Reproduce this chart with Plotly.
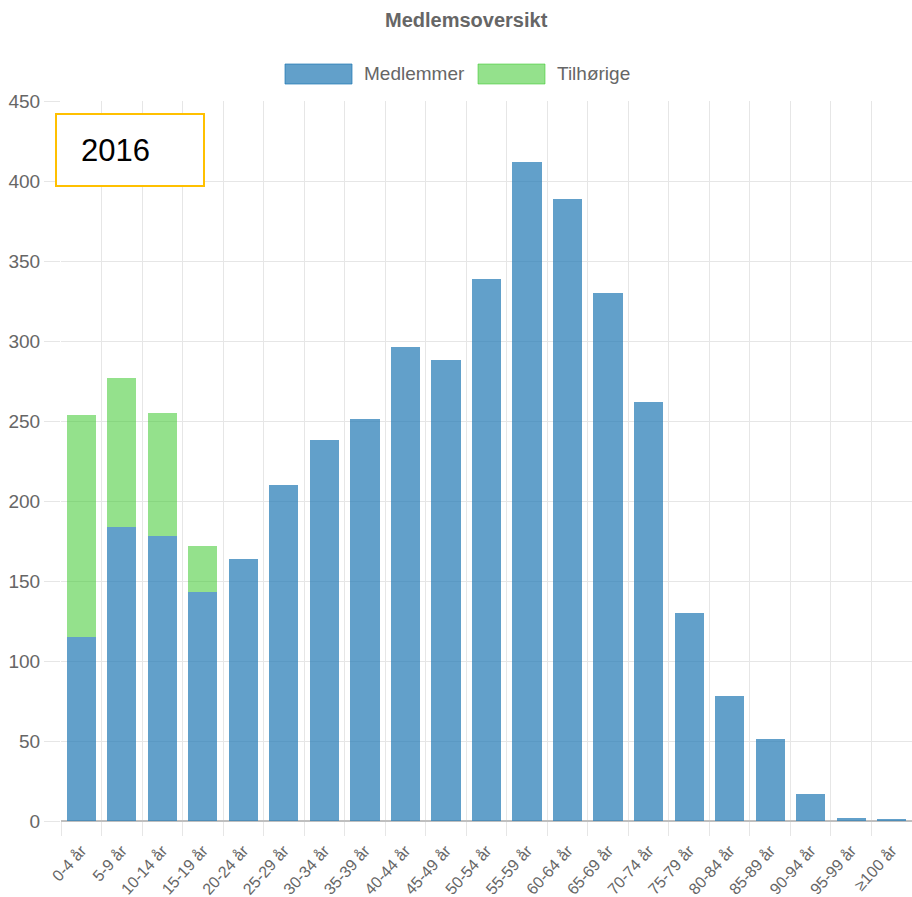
import plotly.graph_objects as go

categories = ["0-4 år", "5-9 år", "10-14 år", "15-19 år", "20-24 år", "25-29 år",
              "30-34 år", "35-39 år", "40-44 år", "45-49 år", "50-54 år", "55-59 år",
              "60-64 år", "65-69 år", "70-74 år", "75-79 år", "80-84 år", "85-89 år",
              "90-94 år", "95-99 år", "≥100 år"]
medlemmer = [115, 184, 178, 143, 164, 210, 238, 251, 296, 288, 339, 412,
             389, 330, 262, 130, 78, 51, 17, 2, 1]
tilhorige = [139, 93, 77, 29, 0, 0, 0, 0, 0, 0, 0, 0,
             0, 0, 0, 0, 0, 0, 0, 0, 0]
y_ticks = [0, 50, 100, 150, 200, 250, 300, 350, 400, 450]

W, H = 912, 897
L, R, T, B = 61, 0, 101, 76
PW, PH = W - L - R, H - T - B

def px(x):
    return (x - L) / PW

def py(y):
    return (H - B - y) / PH

FONT = "Liberation Sans, Arial, sans-serif"
GRAY = "#666666"
GRID = "#e6e6e6"
BLUE = "rgba(31,119,180,0.7)"
GREEN = "rgba(60,200,45,0.55)"

idx = list(range(len(categories)))

fig = go.Figure()
fig.add_trace(go.Bar(x=idx, y=medlemmer, name="Medlemmer", marker=dict(color=BLUE, line=dict(width=0))))
fig.add_trace(go.Bar(x=idx, y=tilhorige, name="Tilhørige", marker=dict(color=GREEN, line=dict(width=0))))

shapes = []
annotations = []
# custom legend
legend_items = [("Medlemmer", BLUE, 285, 352, 362), ("Tilhørige", GREEN, 478, 545, 555)]
for name, col, x0, x1, tx in legend_items:
    shapes.append(dict(type="rect", xref="paper", yref="paper", x0=px(x0), x1=px(x1),
                       y0=py(84), y1=py(64), fillcolor=col, line=dict(color=col, width=1)))
    annotations.append(dict(xref="paper", yref="paper", x=px(tx), y=py(74), xanchor="left",
                            yanchor="middle", text=name, showarrow=False,
                            font=dict(family=FONT, size=19, color=GRAY)))
# title
annotations.append(dict(xref="paper", yref="paper", x=px(466), y=py(20), xanchor="center",
                        yanchor="middle", text="<b>Medlemsoversikt</b>", showarrow=False,
                        font=dict(family=FONT, size=20, color=GRAY)))
# 2016 box
shapes.append(dict(type="rect", xref="paper", yref="paper", x0=px(56), x1=px(204),
                   y0=py(186), y1=py(114), fillcolor="white", line=dict(color="#FFC000", width=2)))
annotations.append(dict(xref="paper", yref="paper", x=px(79), y=py(150), xanchor="left",
                        yanchor="middle", text="2016", showarrow=False,
                        font=dict(family="Liberation Sans, Arial, sans-serif", size=31, color="black")))

fig.update_layout(
    width=W, height=H,
    margin=dict(l=L, r=R, t=T, b=B, autoexpand=False),
    paper_bgcolor="white", plot_bgcolor="white",
    barmode="stack", bargap=0.28,
    showlegend=False,
    font=dict(family=FONT, size=19, color=GRAY),
    shapes=shapes, annotations=annotations,
    xaxis=dict(range=[-0.5, len(categories) - 0.5], tickmode="array", tickvals=idx,
               ticktext=categories, tickangle=-48, showgrid=False, zeroline=False,
               automargin=False,
               ticks="outside", ticklen=13, tickcolor="rgba(0,0,0,0)",
               tickfont=dict(family=FONT, size=16, color=GRAY),
               minor=dict(tickmode="array", tickvals=[i - 0.5 for i in range(len(categories) + 1)],
                          showgrid=True, gridcolor=GRID, gridwidth=1, ticks="outside",
                          ticklen=14, tickcolor=GRID)),
    yaxis=dict(range=[0, 450], tickmode="array", tickvals=y_ticks, showgrid=True,
               automargin=False,
               gridcolor=GRID, gridwidth=1, zeroline=True, zerolinecolor="#bfbfbf",
               zerolinewidth=1.5, ticks="outside", ticklen=16, tickcolor=GRID,
               tickfont=dict(family=FONT, size=19, color=GRAY)),
)

fig.write_html("out.html", config={"displayModeBar": False},
               post_script="document.body.style.margin='0';document.body.style.overflow='hidden';")
